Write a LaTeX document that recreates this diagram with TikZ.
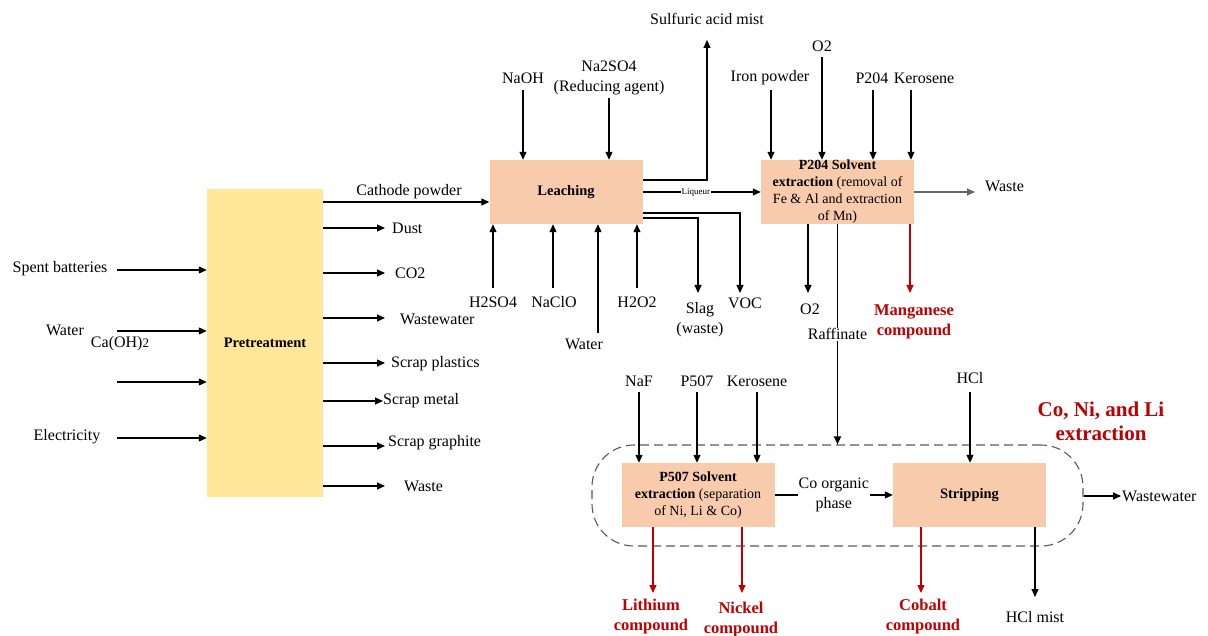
\documentclass[tikz,border=0pt]{standalone}
\usepackage{fontspec}
\setmainfont{Liberation Serif}
\usetikzlibrary{arrows.meta}
\definecolor{peach}{HTML}{F8CBAD}
\definecolor{straw}{HTML}{FFE699}
\definecolor{prodred}{HTML}{C00000}
\definecolor{wastegray}{HTML}{666666}
\definecolor{groupgray}{HTML}{5A5A5A}

\begin{document}
\begin{tikzpicture}[x=1pt,y=-1pt,
  flow/.style={line width=1.1pt,-{Triangle[length=8pt,width=7pt]}},
  redflow/.style={flow,draw=prodred},
  lbl/.style={font=\fontsize{16}{20}\selectfont, inner sep=0pt, align=center},
  redlbl/.style={text=prodred, inner sep=0pt, align=center, font=\fontsize{16.5}{20}\selectfont\bfseries},
  unit/.style={fill=peach, minimum width=153pt, minimum height=64pt, inner sep=0pt, align=center, font=\fontsize{14}{17}\selectfont},
  unitbold/.style={unit, font=\fontsize{14.5}{17}\selectfont\bfseries},
  onwire/.style={fill=white, inner sep=1pt},
]
\useasboundingbox (0,0) rectangle (1208,636);
\fill[white] (0,0) rectangle (1208,636);

% ---------------- process units ----------------
\node[fill=straw, minimum width=116pt, minimum height=308pt, inner sep=0pt,
      font=\fontsize{14.5}{17}\selectfont\bfseries] (pre) at (265,343) {Pretreatment};
\node[unitbold] (leach) at (566,192) {Leaching};
\node[unit] (p204) at (837.5,192) {\textbf{P204 Solvent}\\\textbf{extraction} (removal of\\Fe \& Al and extraction\\of Mn)};
\node[unit] (p507) at (698,495) {\textbf{P507 Solvent}\\\textbf{extraction} (separation\\of Ni, Li \& Co)};
\node[unitbold] (strip) at (969.5,495) {Stripping};
\node[draw=groupgray, line width=1.1pt, dash pattern=on 9pt off 5pt, rounded corners=42pt,
      minimum width=491pt, minimum height=101pt, inner sep=0pt] (grp) at (837.5,495.5) {};

% ---------------- pretreatment inputs ----------------
\node[lbl] (spent) at (60,269) {Spent batteries};
\coordinate (spentA) at (117,270);
\draw[flow] (spentA) -- (spentA -| pre.west);
\node[lbl] (water1) at (65,330) {Water};
\node[lbl] (caoh) at (120,344) {Ca(OH){\fontsize{13}{14}\selectfont 2}};
\coordinate (waterA) at (117,331);
\draw[flow] (waterA) -- (waterA -| pre.west);
\coordinate (thirdA) at (117,382);
\draw[flow] (thirdA) -- (thirdA -| pre.west);
\node[lbl] (elec) at (67,437) {Electricity};
\coordinate (elecA) at (117,438);
\draw[flow] (elecA) -- (elecA -| pre.west);

% ---------------- pretreatment outputs ----------------
\coordinate (cathA) at (323,202);
\draw[flow] (cathA) -- (cathA -| leach.west);
\node[lbl] (cath) at (409,192) {Cathode powder};
\coordinate (dustE) at (385,228);
\draw[flow] (pre.east |- dustE) -- (dustE);
\node[lbl, anchor=west] (dust) at (392,228) {Dust};
\coordinate (co2E) at (385,273);
\draw[flow] (pre.east |- co2E) -- (co2E);
\node[lbl, anchor=west] (co2) at (395,273) {CO2};
\coordinate (wwE) at (385,318);
\draw[flow] (pre.east |- wwE) -- (wwE);
\node[lbl, anchor=west] (ww1) at (400,319) {Wastewater};
\coordinate (plE) at (385,363);
\draw[flow] (pre.east |- plE) -- (plE);
\node[lbl, anchor=west] (plast) at (391,364) {Scrap plastics};
\coordinate (meE) at (383,401);
\draw[flow] (pre.east |- meE) -- (meE);
\node[lbl, anchor=west] (metal) at (383,401) {Scrap metal};
\coordinate (grE) at (385,446);
\draw[flow] (pre.east |- grE) -- (grE);
\node[lbl, anchor=west] (graph) at (388,443) {Scrap graphite};
\coordinate (waE) at (385,486);
\draw[flow] (pre.east |- waE) -- (waE);
\node[lbl, anchor=west] (waste1) at (404,486) {Waste};

% ---------------- leaching ----------------
\node[lbl] (naoh) at (523,78) {NaOH};
\coordinate (naohA) at (523,90);
\draw[flow] (naohA) -- (naohA |- leach.north);
\node[lbl] (na2so4) at (609,78) {Na2SO4\\(Reducing agent)};
\coordinate (na2so4A) at (609,98);
\draw[flow] (na2so4A) -- (na2so4A |- leach.north);
\node[lbl] (sulf) at (707,19) {Sulfuric acid mist};
\coordinate (sulfA) at (707,40);
\coordinate (sulfB) at (643,180);
\draw[flow] (sulfB) -| (sulfA);
\draw[flow] (leach.east) -- node[onwire, pos=0.45, font=\fontsize{9}{10}\selectfont] (liq) {Liqueur} (p204.west);
\coordinate (slagB) at (643,218);
\coordinate (slagA) at (698,293);
\draw[flow] (slagB) -| (slagA);
\node[lbl] (slag) at (700,320) {Slag\\(waste)};
\coordinate (vocB) at (643,213);
\coordinate (vocA) at (740,293);
\draw[flow] (vocB) -| (vocA);
\node[lbl] (voc) at (745,303) {VOC};
\coordinate (h2so4A) at (493,288);
\draw[flow] (h2so4A) -- (h2so4A |- leach.south);
\node[lbl] (h2so4) at (493,302) {H2SO4};
\coordinate (naclA) at (553,288);
\draw[flow] (naclA) -- (naclA |- leach.south);
\node[lbl] (nacl) at (554,302) {NaClO};
\coordinate (water2A) at (598,333);
\draw[flow] (water2A) -- (water2A |- leach.south);
\node[lbl] (water2) at (584,344) {Water};
\coordinate (h2o2A) at (637,288);
\draw[flow] (h2o2A) -- (h2o2A |- leach.south);
\node[lbl] (h2o2) at (637,302) {H2O2};

% ---------------- P204 solvent extraction ----------------
\node[lbl] (iron) at (770,78) {Iron powder};
\coordinate (ironA) at (771,90);
\draw[flow] (ironA) -- (ironA |- p204.north);
\node[lbl] (o2in) at (822,46) {O2};
\coordinate (o2A) at (822,57);
\draw[flow] (o2A) -- (o2A |- p204.north);
\node[lbl] (p204in) at (872,78) {P204};
\coordinate (p204A) at (873,90);
\draw[flow] (p204A) -- (p204A |- p204.north);
\node[lbl] (kero1) at (924,78) {Kerosene};
\coordinate (kero1A) at (911,90);
\draw[flow] (kero1A) -- (kero1A |- p204.north);
\coordinate (waste2E) at (975,192);
\draw[flow, draw=wastegray] (p204.east) -- (waste2E);
\node[lbl, anchor=west] (waste2) at (985,186) {Waste};
\coordinate (o2outE) at (808,293);
\draw[flow] (o2outE |- p204.south) -- (o2outE);
\node[lbl] (o2out) at (810,309) {O2};
\coordinate (mnE) at (910,293);
\draw[redflow] (mnE |- p204.south) -- (mnE);
\node[redlbl] (mn) at (914,322) {Manganese\\compound};
\draw[flow] (p204.south) -- node[lbl, onwire, pos=0.5] (raff) {Raffinate} (grp.north);

% ---------------- Co, Ni and Li extraction ----------------
\node[lbl] (naf) at (639,381) {NaF};
\coordinate (nafA) at (639,392);
\draw[flow] (nafA) -- (nafA |- p507.north);
\node[lbl] (p507in) at (697,381) {P507};
\coordinate (p507A) at (697,392);
\draw[flow] (p507A) -- (p507A |- p507.north);
\node[lbl] (kero2) at (757,381) {Kerosene};
\coordinate (kero2A) at (757,392);
\draw[flow] (kero2A) -- (kero2A |- p507.north);
\node[lbl] (hcl) at (970,378) {HCl};
\coordinate (hclA) at (970,392);
\draw[flow] (hclA) -- (hclA |- strip.north);
\draw[flow] (p507.east) -- node[lbl, onwire, pos=0.5] (coorg) {Co organic\\phase} (strip.west);
\coordinate (ww2E) at (1121,496);
\draw[flow] (grp.east |- ww2E) -- (ww2E);
\node[lbl, anchor=west] (ww2) at (1122,496) {Wastewater};

\coordinate (liE) at (653,593);
\draw[redflow] (liE |- p507.south) -- (liE);
\node[redlbl] (li) at (651,617) {Lithium\\compound};
\coordinate (niE) at (742,593);
\draw[redflow] (niE |- p507.south) -- (niE);
\node[redlbl] (ni) at (741,620) {Nickel\\compound};
\coordinate (coE) at (921,593);
\draw[redflow] (coE |- strip.south) -- (coE);
\node[redlbl] (co) at (923,617) {Cobalt\\compound};
\coordinate (hclmE) at (1035,597);
\draw[flow] (hclmE |- strip.south) -- (hclmE);
\node[lbl] (hclm) at (1035,617) {HCl mist};

\node[text=prodred, inner sep=0pt, align=center, font=\fontsize{21}{24}\selectfont\bfseries] (grplbl) at (1101,421) {Co, Ni, and Li\\extraction};
\end{tikzpicture}
\end{document}
